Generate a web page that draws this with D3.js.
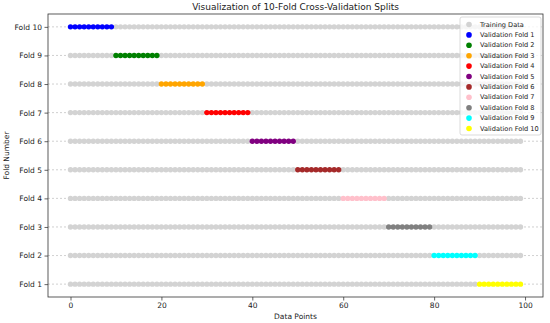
<!DOCTYPE html>
<html>
<head>
<meta charset="utf-8">
<script src="https://cdn.jsdelivr.net/npm/d3@7"></script>
<style>
	html, body { margin: 0; padding: 0; background: #fff; }
	svg { display: block; font-family: "DejaVu Sans", sans-serif; }
	svg text { fill: #222; }
	.grid line { stroke: #b0b0b0; stroke-dasharray: 2,2; stroke-width: 0.6; }
	.tick text { font-size: 7.5px; font-family: "DejaVu Sans", sans-serif; }
</style>
</head>
<body>
<svg id="chart"></svg>
<script>
// data points 0..99, one row per fold
const dataPoints = d3.range( 0, 100 );
const foldLabels = [ 'Fold 1', 'Fold 2', 'Fold 3', 'Fold 4', 'Fold 5', 'Fold 6', 'Fold 7', 'Fold 8', 'Fold 9', 'Fold 10' ];
const foldValues = [ 1, 2, 3, 4, 5, 6, 7, 8, 9, 10 ];
// validation fold shown on each row (Fold 1 row -> Validation Fold 10, ...)
const rowValidation = [ 10, 9, 8, 7, 6, 5, 4, 3, 2, 1 ];
const validationStart = [ 0, 10, 20, 30, 40, 50, 60, 70, 80, 90 ];
const validationEnd = [ 9, 19, 29, 39, 49, 59, 69, 79, 89, 99 ];
const validationColors = [ 'blue', 'green', 'orange', 'red', 'purple', 'brown', 'pink', 'gray', 'cyan', 'yellow' ];
const legendLabels = [ 'Training Data', 'Validation Fold 1', 'Validation Fold 2', 'Validation Fold 3', 'Validation Fold 4',
	'Validation Fold 5', 'Validation Fold 6', 'Validation Fold 7', 'Validation Fold 8', 'Validation Fold 9', 'Validation Fold 10' ];
const xTicks = [ 0, 20, 40, 60, 80, 100 ];

const width = 550;
const height = 323;
const margin = { top: 14, right: 7, bottom: 26, left: 48 };
const innerWidth = width - margin.left - margin.right;
const innerHeight = height - margin.top - margin.bottom;

const svg = d3.select( '#chart' )
	.attr( 'width', width )
	.attr( 'height', height );

const g = svg.append( 'g' )
	.attr( 'transform', `translate(${ margin.left },${ margin.top })` );

const xScale = d3.scaleLinear()
	.domain( [ -4.95, 103.95 ] )
	.range( [ 0, innerWidth ] );

const yScale = d3.scaleLinear()
	.domain( [ 0.55, 10.45 ] )
	.range( [ innerHeight, 0 ] );

// dashed horizontal grid
g.append( 'g' )
	.attr( 'class', 'grid' )
	.selectAll( 'line' )
	.data( foldValues )
	.join( 'line' )
	.attr( 'x1', 0 )
	.attr( 'x2', innerWidth )
	.attr( 'y1', ( d ) => yScale( d ) )
	.attr( 'y2', ( d ) => yScale( d ) );

// points, validation on top of training
const points = [];
foldValues.forEach( ( fold, i ) => {
	const v = rowValidation[ i ] - 1;
	dataPoints.forEach( ( p ) => {
		const isVal = p >= validationStart[ v ] && p <= validationEnd[ v ];
		points.push( { x: p, y: fold, color: isVal ? validationColors[ v ] : 'lightgray', val: isVal } );
	} );
} );
points.sort( ( a, b ) => a.val - b.val );

g.append( 'g' )
	.selectAll( 'circle' )
	.data( points )
	.join( 'circle' )
	.attr( 'cx', ( d ) => xScale( d.x ) )
	.attr( 'cy', ( d ) => yScale( d.y ) )
	.attr( 'r', 2.7 )
	.attr( 'fill', ( d ) => d.color );

// axes
const xAxis = g.append( 'g' )
	.attr( 'transform', `translate(0,${ innerHeight })` )
	.call( d3.axisBottom( xScale ).tickValues( xTicks ).tickSize( 3.5 ).tickPadding( 2.5 ) );

const yAxis = g.append( 'g' )
	.call( d3.axisLeft( yScale ).tickValues( foldValues ).tickFormat( ( d, i ) => foldLabels[ i ] ).tickSize( 3.5 ).tickPadding( 2.5 ) );

[ xAxis, yAxis ].forEach( ( a ) => {
	a.attr( 'font-size', null ).attr( 'font-family', null );
	a.select( '.domain' ).remove();
	a.selectAll( 'line' ).attr( 'stroke', '#222' ).attr( 'stroke-width', 0.7 );
} );

// frame
g.append( 'rect' )
	.attr( 'width', innerWidth )
	.attr( 'height', innerHeight )
	.attr( 'fill', 'none' )
	.attr( 'stroke', '#333' )
	.attr( 'stroke-width', 0.8 );

// title and axis labels
svg.append( 'text' )
	.attr( 'x', margin.left + innerWidth / 2 )
	.attr( 'y', 10 )
	.attr( 'text-anchor', 'middle' )
	.style( 'font-size', '9px' )
	.text( 'Visualization of 10-Fold Cross-Validation Splits' );

svg.append( 'text' )
	.attr( 'x', margin.left + innerWidth / 2 )
	.attr( 'y', 319 )
	.attr( 'text-anchor', 'middle' )
	.style( 'font-size', '7.5px' )
	.text( 'Data Points' );

svg.append( 'text' )
	.attr( 'transform', `translate(9,${ margin.top + innerHeight / 2 }) rotate(-90)` )
	.attr( 'text-anchor', 'middle' )
	.style( 'font-size', '7.5px' )
	.text( 'Fold Number' );

// legend
const legend = svg.append( 'g' )
	.attr( 'transform', 'translate(460,17)' );

legend.append( 'rect' )
	.attr( 'width', 81 )
	.attr( 'height', 118 )
	.attr( 'rx', 2 )
	.attr( 'fill', 'rgba(255,255,255,0.8)' )
	.attr( 'stroke', '#ccc' )
	.attr( 'stroke-width', 0.7 );

const legendColors = [ 'lightgray' ].concat( validationColors );
const items = legend.selectAll( 'g.item' )
	.data( legendLabels )
	.join( 'g' )
	.attr( 'class', 'item' )
	.attr( 'transform', ( d, i ) => `translate(0,${ 7.5 + i * 10.4 })` );

items.append( 'circle' )
	.attr( 'cx', 9 )
	.attr( 'cy', 0 )
	.attr( 'r', 2.8 )
	.attr( 'fill', ( d, i ) => legendColors[ i ] );

items.append( 'text' )
	.attr( 'x', 20 )
	.attr( 'y', 0 )
	.attr( 'dy', '0.32em' )
	.style( 'font-size', '6.6px' )
	.text( ( d ) => d );
</script>
</body>
</html>
